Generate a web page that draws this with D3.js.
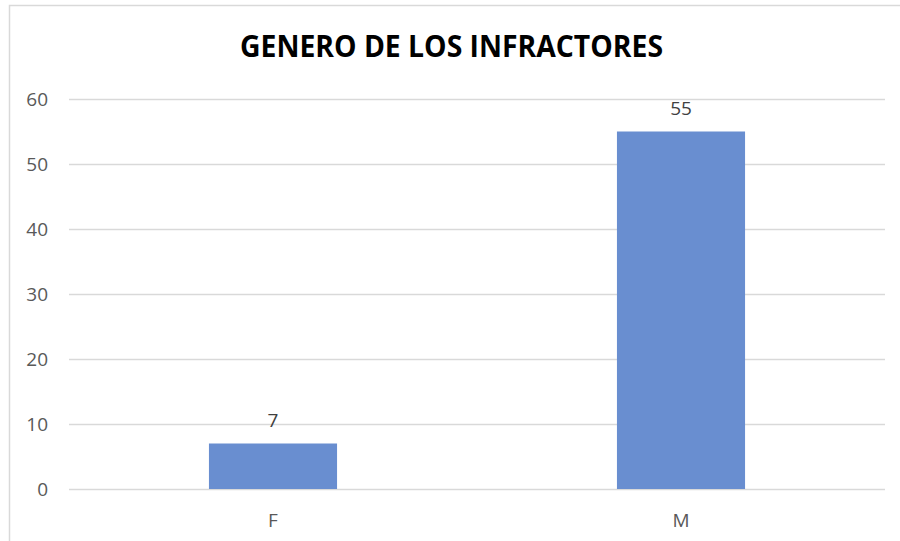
<!DOCTYPE html>
<html>
<head>
<meta charset="utf-8">
<script src="https://cdn.jsdelivr.net/npm/d3@7"></script>
<style>
  html, body { margin: 0; padding: 0; background: #fff; }
  svg { display: block; }
</style>
</head>
<body>
<div id="chart"></div>
<script>
// chart data
var categories = ["F", "M"];
var values = [7, 55];
var yTicks = [0, 10, 20, 30, 40, 50, 60];
var title = "GENERO DE LOS INFRACTORES";

var width = 900, height = 541;
var margin = {top: 99, right: 15, bottom: 52, left: 69};

var svg = d3.select("#chart").append("svg")
  .attr("width", width)
  .attr("height", height);

// outer chart border
svg.append("rect")
  .attr("x", 9.5).attr("y", 5.5)
  .attr("width", 900).attr("height", 560)
  .attr("fill", "#fff")
  .attr("stroke", "#d9d9d9")
  .attr("stroke-width", 1.5);

var x = d3.scaleBand()
  .domain(categories)
  .range([margin.left, width - margin.right])
  .padding(0);

var y = d3.scaleLinear()
  .domain([0, 60])
  .range([height - margin.bottom, margin.top]);

// gridlines
svg.append("g")
  .selectAll("line")
  .data(yTicks)
  .enter().append("line")
  .attr("x1", margin.left)
  .attr("x2", width - margin.right)
  .attr("y1", function(d) { return Math.round(y(d)) + 0.5; })
  .attr("y2", function(d) { return Math.round(y(d)) + 0.5; })
  .attr("stroke", "#d9d9d9")
  .attr("stroke-width", 1.3);

// y tick labels
svg.append("g")
  .selectAll("text")
  .data(yTicks)
  .enter().append("text")
  .attr("x", 48)
  .attr("y", function(d) { return y(d); })
  .attr("dy", "0.36em")
  .attr("text-anchor", "end")
  .attr("fill", "#595959")
  .style("font-family", "'Open Sans', sans-serif")
  .style("font-size", "19px")
  .text(function(d) { return d; });

// bars
var barW = x.bandwidth() * 0.314;
svg.append("g")
  .selectAll("rect")
  .data(values)
  .enter().append("rect")
  .attr("x", function(d, i) { return x(categories[i]) + x.bandwidth() / 2 - barW / 2; })
  .attr("y", function(d) { return y(d); })
  .attr("width", barW)
  .attr("height", function(d) { return y(0) - y(d); })
  .attr("fill", "#698ed0");

// data labels
svg.append("g")
  .selectAll("text")
  .data(values)
  .enter().append("text")
  .attr("x", function(d, i) { return x(categories[i]) + x.bandwidth() / 2; })
  .attr("y", function(d) { return y(d) - 17; })
  .attr("text-anchor", "middle")
  .attr("fill", "#404040")
  .style("font-family", "'Open Sans', sans-serif")
  .style("font-size", "19px")
  .text(function(d) { return d; });

// category labels
svg.append("g")
  .selectAll("text")
  .data(categories)
  .enter().append("text")
  .attr("x", function(d) { return x(d) + x.bandwidth() / 2; })
  .attr("y", 520)
  .attr("dy", "0.36em")
  .attr("text-anchor", "middle")
  .attr("fill", "#595959")
  .style("font-family", "'Open Sans', sans-serif")
  .style("font-size", "19px")
  .text(function(d) { return d; });

// title
svg.append("text")
  .attr("x", 451.5)
  .attr("y", 57)
  .attr("text-anchor", "middle")
  .attr("fill", "#000")
  .attr("textLength", 423)
  .attr("lengthAdjust", "spacingAndGlyphs")
  .style("font-family", "'Open Sans', sans-serif")
  .style("font-weight", "bold")
  .style("font-size", "30px")
  .text(title);
</script>
</body>
</html>
